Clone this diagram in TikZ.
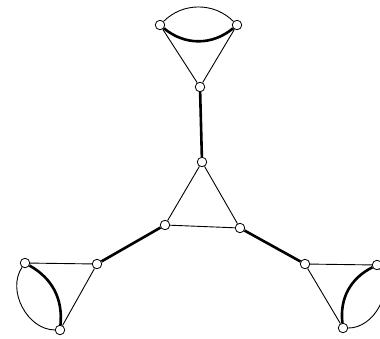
\documentclass[tikz,border=0pt]{standalone}
\begin{document}
\begin{tikzpicture}[x=1pt,y=-1pt,
  vtx/.style={circle,draw,fill=white,inner sep=0pt,minimum size=9.5pt,line width=0.8pt},
  thin/.style={line width=0.9pt},
  thick/.style={line width=2.6pt}]
\useasboundingbox (0,0) rectangle (380,338);
\fill[white] (0,0) rectangle (380,338);
% vertices
\node[vtx] (a1) at (160,25) {};
\node[vtx] (a2) at (237,25) {};
\node[vtx] (a3) at (200,87) {};
\node[vtx] (c1) at (202,162) {};
\node[vtx] (c2) at (165,225) {};
\node[vtx] (c3) at (240,228) {};
\node[vtx] (l1) at (97,264) {};
\node[vtx] (l2) at (25,263) {};
\node[vtx] (l3) at (60,330) {};
\node[vtx] (r1) at (305,264) {};
\node[vtx] (r2) at (377,265) {};
\node[vtx] (r3) at (343,328) {};
% edges
\draw[thick] (a1) to[bend right=40] (a2);
\draw[thin] (a1) to[bend left=45] (a2);
\draw[thin] (a1) -- (a3);
\draw[thin] (a3) -- (a2);
\draw[thick] (a3) -- (c1);
\draw[thin] (c1) -- (c2);
\draw[thin] (c2) -- (c3);
\draw[thin] (c3) -- (c1);
\draw[thick] (c2) -- (l1);
\draw[thick] (c3) -- (r1);
\draw[thin] (l3) -- (l1);
\draw[thin] (l1) -- (l2);
\draw[thick] (l2) to[bend left=33] (l3);
\draw[thin] (l2) to[bend right=62] (l3);
\draw[thin] (r3) -- (r1);
\draw[thin] (r1) -- (r2);
\draw[thick] (r2) to[bend right=35] (r3);
\draw[thin] (r2) to[bend left=62] (r3);
\end{tikzpicture}
\end{document}
